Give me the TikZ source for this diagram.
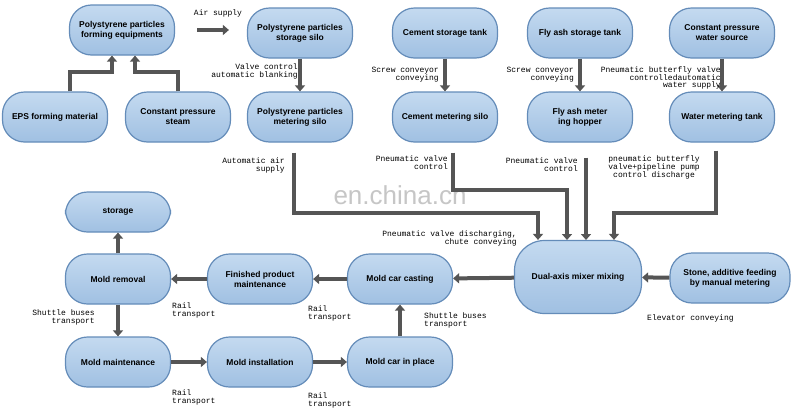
\documentclass[tikz,border=0pt]{standalone}
\usepackage{fontspec}
\setmainfont{Liberation Sans}
\newfontfamily\lab{Liberation Mono}
\usetikzlibrary{arrows.meta}
\definecolor{bfill}{RGB}{160,192,226}
\definecolor{btop}{RGB}{196,218,240}
\definecolor{bdraw}{RGB}{100,140,185}
\definecolor{arr}{RGB}{85,85,85}
\begin{document}
\begin{tikzpicture}[x=1pt,y=-1pt,
 box/.style={draw=bdraw,line width=1.2pt,top color=btop,bottom color=bfill,rounded corners=22pt,minimum width=105pt,minimum height=50pt,align=center,inner sep=2pt,font=\bfseries\fontsize{8.5}{10}\selectfont},
 flow/.style={draw=arr,line width=4pt,-{Triangle[length=6pt,width=10pt]}},
 lb/.style={font=\lab\fontsize{8}{8}\selectfont,inner sep=0pt,align=right},
 lbl/.style={lb,align=left}]
\useasboundingbox (0,0) rectangle (800,410);
\fill[white] (0,0) rectangle (800,410);
\node[box] (A) at (122,30) {Polystyrene particles\\forming equipments};
\node[box] (B) at (300,33) {Polystyrene particles\\storage silo};
\node[box] (C) at (55,117) {EPS forming material};
\node[box] (D) at (178,117) {Constant pressure\\steam};
\node[box] (E) at (300,117) {Polystyrene particles\\metering silo};
\node[box] (F) at (445,33) {Cement storage tank};
\node[box] (G) at (445,117) {Cement metering silo};
\node[box] (H) at (580,33) {Fly ash storage tank};
\node[box] (I) at (580,117) {Fly ash meter\\ing hopper};
\node[box] (J) at (722,33) {Constant pressure\\water source};
\node[box] (K) at (722,117) {Water metering tank};
\node[box,minimum height=40pt] (L) at (118,212) {storage};
\node[box] (M) at (118,279) {Mold removal};
\node[box] (N) at (260,279) {Finished product\\maintenance};
\node[box] (O) at (400,279) {Mold car casting};
\node[box,minimum width=127pt,minimum height=73pt,rounded corners=30pt] (P) at (578,277) {Dual-axis mixer mixing};
\node[box,minimum width=120pt] (Q) at (730,278) {Stone, additive feeding\\by manual metering};
\node[box] (R) at (118,362) {Mold maintenance};
\node[box] (S) at (260,362) {Mold installation};
\node[box] (T) at (400,362) {Mold car in place};
\node[text=gray!45,font=\fontsize{26}{26}\selectfont] (W) at (400,195) {en.china.cn};
% arrows
\draw[flow] ([xshift=22pt]A.east) -- ([xshift=-18pt]B.west |- A.east);
\draw[flow] ([xshift=15pt]C.north) |- (112,72) -- (112,72 |- A.south);
\draw[flow] (D.north) |- (135,72) -- (135,72 |- A.south);
\draw[flow] (B) -- (E);
\draw[flow] (F) -- (G);
\draw[flow] (H) -- (I);
\draw[flow] (J) -- (K);
\draw[flow] ([xshift=-6pt,yshift=-10pt]E.south) -- (294,213) -- (538,213) -- (538,213 |- P.north);
\draw[flow] ([xshift=8pt,yshift=-10pt]G.south) -- (453,190) -- (567,190) -- (567,240);
\draw[flow] ([xshift=6pt,yshift=-15pt]I.south) -- (586,240);
\draw[flow] ([xshift=-6pt,yshift=-8pt]K.south) -- (716,213) -- (614,213) -- (614,213 |- P.north);
\draw[flow] (P) -- (O);
\draw[flow] (Q) -- (P);
\draw[flow] (O) -- (N);
\draw[flow] (N) -- (M);
\draw[flow] (M) -- (L);
\draw[flow] (M) -- (R);
\draw[flow] (R) -- (S);
\draw[flow] (S) -- (T);
\draw[flow] (T) -- (O);
% labels
\node[lbl] (l1) at (218,13) {Air supply};
\node[lb,anchor=north east] (l2) at (298,64) {Valve control\\automatic blanking};
\node[lb,anchor=north east] (l3) at (439,67) {Screw conveyor\\conveying};
\node[lb,anchor=north east] (l4) at (574,67) {Screw conveyor\\conveying};
\node[lb,anchor=north east] (l5) at (721,66) {Pneumatic butterfly valve\\controlledautomatic\\water supply};
\node[lb,anchor=north east] (l6) at (285,157) {Automatic air\\supply};
\node[lb,anchor=north east] (l7) at (448,155) {Pneumatic valve\\control};
\node[lb,anchor=north east] (l8) at (578,157) {Pneumatic valve\\control};
\node[lb,align=center,anchor=north] (l9) at (654,155) {pneumatic butterfly\\valve+pipeline pump\\control discharge};
\node[lb,anchor=north east] (l10) at (517,230) {Pneumatic valve discharging,\\chute conveying};
\node[lbl,anchor=north west] (l11) at (172,302) {Rail\\transport};
\node[lbl,anchor=north west] (l12) at (308,305) {Rail\\transport};
\node[lbl,anchor=north west] (l13) at (172,389) {Rail\\transport};
\node[lbl,anchor=north west] (l14) at (308,392) {Rail\\transport};
\node[lb,anchor=north east] (l15) at (95,309) {Shuttle buses\\transport};
\node[lbl,anchor=north west] (l16) at (424,312) {Shuttle buses\\transport};
\node[lbl,anchor=north west] (l17) at (647,314) {Elevator conveying};
\end{tikzpicture}
\end{document}
